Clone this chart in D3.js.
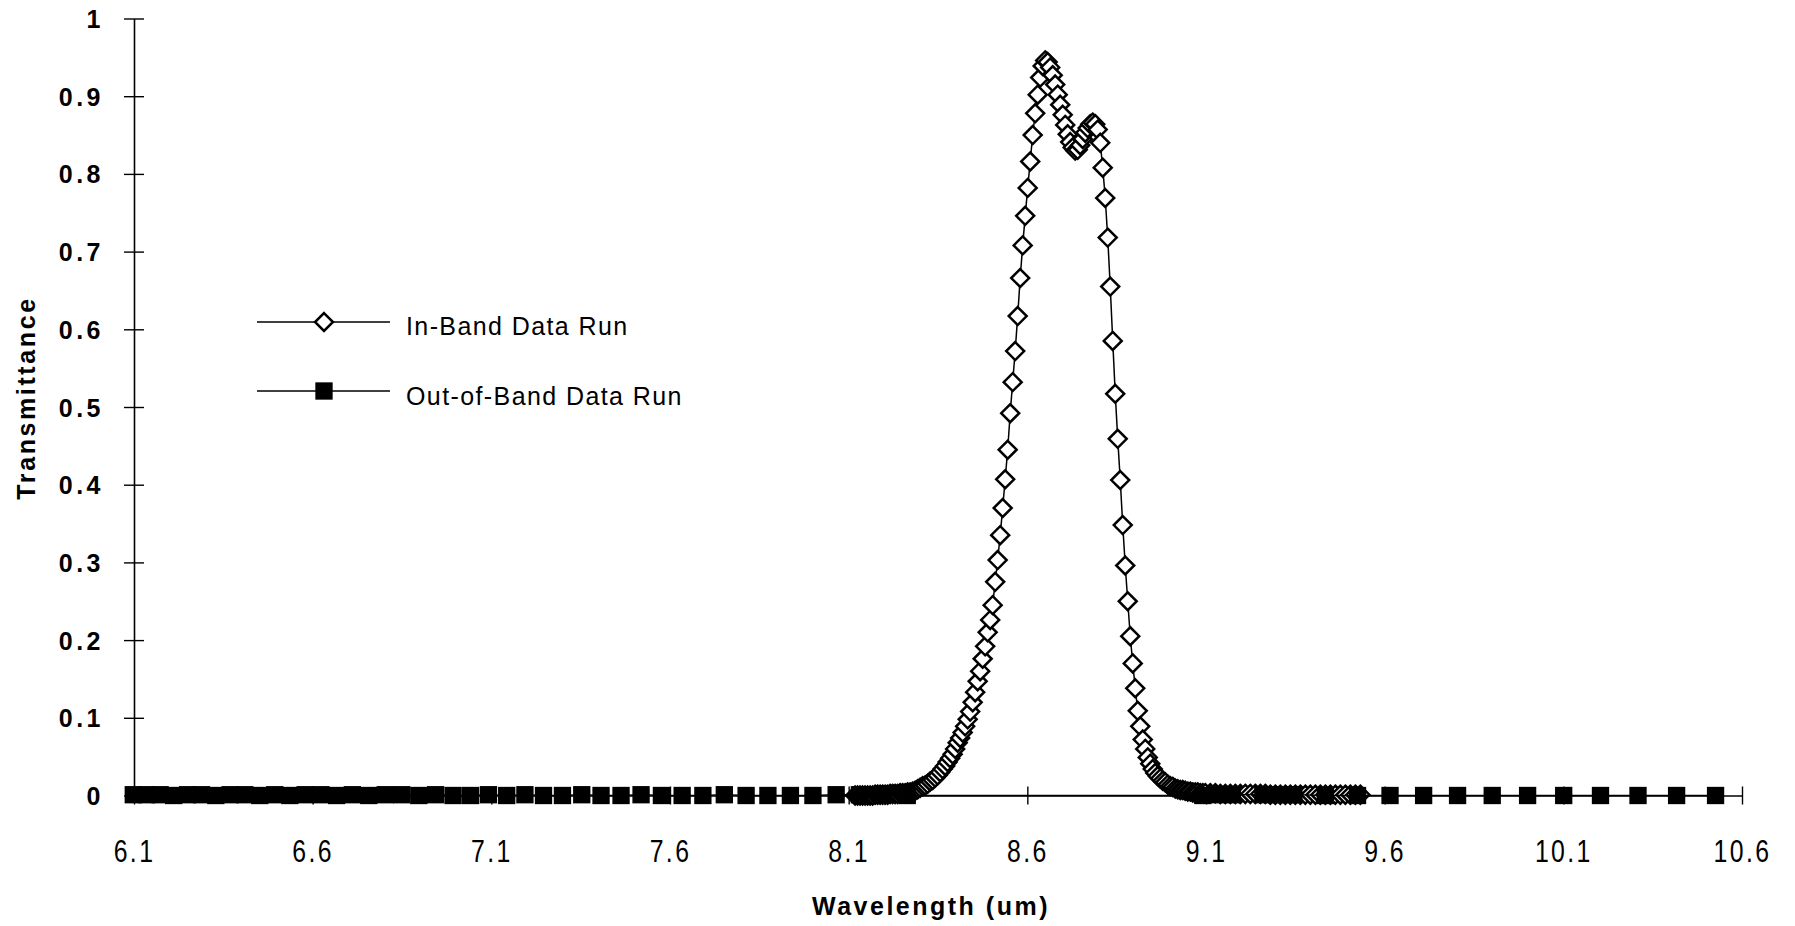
<!DOCTYPE html>
<html><head><meta charset="utf-8">
<script src="https://cdn.jsdelivr.net/npm/d3@7"></script>
<style>
html,body{margin:0;padding:0;background:#fff;}
svg{display:block;}
</style></head>
<body><svg id="chart" width="1795" height="926"></svg>
<script>
// ---------- data ----------
const xTickValues = [6.1, 6.6, 7.1, 7.6, 8.1, 8.6, 9.1, 9.6, 10.1, 10.6];
const xTickLabels = ["6.1", "6.6", "7.1", "7.6", "8.1", "8.6", "9.1", "9.6", "10.1", "10.6"];
const yTickValues = [0, 0.1, 0.2, 0.3, 0.4, 0.5, 0.6, 0.7, 0.8, 0.9, 1];
const yTickLabels = ["0", "0.1", "0.2", "0.3", "0.4", "0.5", "0.6", "0.7", "0.8", "0.9", "1"];
const seriesNames = ["In-Band Data Run", "Out-of-Band Data Run"];
const xTitle = "Wavelength (um)";
const yTitle = "Transmittance";

const inBandWavelength = [
  8.118, 8.125, 8.132, 8.139, 8.146, 8.153,
  8.160, 8.167, 8.174, 8.181, 8.188, 8.195, 8.202, 8.209, 8.216, 8.223,
  8.230, 8.237, 8.244, 8.251, 8.258, 8.265, 8.272, 8.279, 8.286, 8.293,
  8.300, 8.307, 8.314, 8.321, 8.328, 8.335, 8.342, 8.349, 8.356, 8.363,
  8.370, 8.377, 8.384, 8.391, 8.398, 8.405, 8.412, 8.419, 8.426, 8.433,
  8.440, 8.447, 8.454, 8.461, 8.468, 8.475, 8.482, 8.489, 8.496, 8.503,
  8.510, 8.517, 8.524, 8.531, 8.538, 8.545, 8.552, 8.559, 8.566, 8.573,
  8.580, 8.587, 8.594, 8.601, 8.608, 8.615, 8.622, 8.629, 8.636, 8.643,
  8.650, 8.657, 8.664, 8.671, 8.678, 8.685, 8.692, 8.699, 8.706, 8.713,
  8.720, 8.727, 8.734, 8.741, 8.748, 8.755, 8.762, 8.769, 8.776, 8.783,
  8.790, 8.797, 8.804, 8.811, 8.818, 8.825, 8.832, 8.839, 8.846, 8.853,
  8.860, 8.867, 8.874, 8.881, 8.888, 8.895, 8.902, 8.909, 8.916, 8.923,
  8.930, 8.937, 8.944, 8.951, 8.958, 8.965, 8.972, 8.979, 8.986, 8.993,
  9.000, 9.007, 9.014, 9.021, 9.028, 9.035, 9.042, 9.049, 9.056, 9.063,
  9.070, 9.077, 9.084, 9.091, 9.098,
  9.112, 9.126, 9.140, 9.154, 9.168, 9.182, 9.196, 9.210, 9.224, 9.238,
  9.252, 9.266, 9.280, 9.294, 9.308, 9.322, 9.336, 9.350, 9.364, 9.378,
  9.392, 9.406, 9.420, 9.434, 9.448, 9.462, 9.476, 9.490, 9.504, 9.518,
  9.532
];
const inBandTransmittance = [
  0.000, 0.000, 0.000, 0.000, 0.000, 0.000,
  0.000, 0.000, 0.001, 0.001, 0.001, 0.001, 0.001, 0.001, 0.002, 0.002,
  0.002, 0.002, 0.003, 0.003, 0.003, 0.004, 0.004, 0.005, 0.006, 0.008,
  0.010, 0.012, 0.013, 0.015, 0.018, 0.020, 0.023, 0.026, 0.030, 0.034,
  0.038, 0.043, 0.048, 0.053, 0.060, 0.068, 0.074, 0.081, 0.089, 0.098,
  0.108, 0.120, 0.133, 0.147, 0.160, 0.176, 0.192, 0.210, 0.226, 0.245,
  0.275, 0.303, 0.335, 0.370, 0.407, 0.445, 0.492, 0.532, 0.572, 0.617,
  0.666, 0.708, 0.746, 0.782, 0.816, 0.850, 0.878, 0.902, 0.924, 0.939,
  0.946, 0.944, 0.937, 0.927, 0.915, 0.902, 0.889, 0.876, 0.863, 0.851,
  0.841, 0.834, 0.830, 0.831, 0.837, 0.845, 0.853, 0.859, 0.864, 0.866,
  0.864, 0.857, 0.840, 0.808, 0.769, 0.718, 0.655, 0.585, 0.517, 0.459,
  0.406, 0.348, 0.296, 0.250, 0.205, 0.170, 0.138, 0.109, 0.089, 0.072,
  0.060, 0.049, 0.041, 0.034, 0.029, 0.025, 0.022, 0.019, 0.017, 0.014,
  0.012, 0.011, 0.009, 0.008, 0.007, 0.007, 0.006, 0.005, 0.005, 0.004,
  0.004, 0.004, 0.003, 0.003, 0.003,
  0.003, 0.003, 0.002, 0.002, 0.002, 0.002, 0.002, 0.002, 0.002, 0.002,
  0.002, 0.002, 0.001, 0.001, 0.001, 0.001, 0.001, 0.001, 0.001, 0.001,
  0.001, 0.001, 0.001, 0.001, 0.001, 0.001, 0.001, 0.001, 0.001, 0.001,
  0.001
];

const outBandWavelength = [
  6.098, 6.135, 6.173, 6.211, 6.250, 6.289, 6.329, 6.369, 6.410, 6.452,
  6.494, 6.536, 6.579, 6.623, 6.667, 6.711, 6.757, 6.803, 6.849, 6.897,
  6.944, 6.993, 7.042, 7.092, 7.143, 7.194, 7.246, 7.299, 7.353, 7.407,
  7.463, 7.519, 7.576, 7.634, 7.692, 7.752, 7.813, 7.874, 7.937, 8.000,
  8.065, 8.130, 8.197, 8.264,
  9.091, 9.130, 9.174, 9.259, 9.302, 9.346, 9.434, 9.524,
  9.615, 9.709, 9.804, 9.901, 10.000, 10.101, 10.204, 10.309, 10.417, 10.526
];
const outBandTransmittance = [
  0.001, 0.001, 0.001, 0.000, 0.001, 0.001, 0.000, 0.001, 0.001, 0.000,
  0.001, 0.000, 0.001, 0.001, 0.000, 0.001, 0.000, 0.001, 0.001, 0.000,
  0.001, 0.000, 0.000, 0.001, 0.000, 0.001, 0.000, 0.000, 0.001, 0.000,
  0.000, 0.001, 0.000, 0.000, 0.000, 0.001, 0.000, 0.000, 0.000, 0.000,
  0.001, 0.001, 0.002, 0.000,
  0.000, 0.001, 0.001, 0.001, 0.001, 0.001, 0.000, 0.000,
  0.000, 0.000, 0.000, 0.000, 0.000, 0.000, 0.000, 0.000, 0.000, 0.000
];

// ---------- chart ----------
const svg = d3.select("#chart");
const x = d3.scaleLinear().domain([6.1, 10.6]).range([134, 1742]);
const y = d3.scaleLinear().domain([0, 1]).range([795.5, 18.5]);

const inBand = inBandWavelength.map((w, i) => ({w, t: inBandTransmittance[i]}));
const outBand = outBandWavelength.map((w, i) => ({w, t: outBandTransmittance[i]}));

const FONT = "'Liberation Sans', Arial, Helvetica, sans-serif";

// X axis
const xAxis = d3.axisBottom(x)
  .tickValues(xTickValues)
  .tickFormat(d => xTickLabels[xTickValues.indexOf(d)])
  .tickSizeInner(9).tickSizeOuter(0).tickPadding(0);
const gx = svg.append("g").attr("transform", `translate(0,${y(0)})`).call(xAxis);
gx.select(".domain").attr("stroke", "#000").attr("stroke-width", 1.4);
gx.selectAll(".tick line").attr("y1", -9).attr("y2", 9).attr("stroke", "#000").attr("stroke-width", 1.4);
gx.selectAll(".tick text")
  .attr("y", 67).attr("dy", 0)
  .attr("transform", "scale(0.8,1)")
  .attr("fill", "#000")
  .style("font-family", FONT).style("font-size", "31px").style("letter-spacing", "3px");

// Y axis
const yAxis = d3.axisLeft(y)
  .tickValues(yTickValues)
  .tickFormat(d => yTickLabels[yTickValues.indexOf(d)])
  .tickSizeInner(10).tickSizeOuter(0).tickPadding(23);
const gy = svg.append("g").attr("transform", `translate(${x(6.1)},0)`).call(yAxis);
gy.select(".domain").attr("stroke", "#000").attr("stroke-width", 1.6);
gy.selectAll(".tick line").attr("x1", 10).attr("x2", -10).attr("stroke", "#000").attr("stroke-width", 1.4);
gy.selectAll(".tick text")
  .attr("x", -30).attr("dy", "0.36em")
  .attr("fill", "#000")
  .style("font-family", FONT).style("font-size", "25px").style("font-weight", "bold")
  .style("letter-spacing", "3.5px");

// Titles
svg.append("text")
  .attr("x", 931).attr("y", 915)
  .attr("text-anchor", "middle")
  .style("font-family", FONT).style("font-size", "25px").style("font-weight", "bold")
  .style("letter-spacing", "2.5px")
  .text(xTitle);
svg.append("text")
  .attr("transform", "translate(35,398) rotate(-90)")
  .attr("text-anchor", "middle")
  .style("font-family", FONT).style("font-size", "25px").style("font-weight", "bold")
  .style("letter-spacing", "2.6px")
  .text(yTitle);

// Series
const line = d3.line().x(d => x(d.w)).y(d => y(d.t));
const diamond = d3.symbol().type(d3.symbolDiamond2).size(205);
const square = d3.symbol().type(d3.symbolSquare).size(300);

// In-band
svg.append("path").datum(inBand)
  .attr("d", line).attr("fill", "none").attr("stroke", "#000").attr("stroke-width", 1.5);
svg.append("g").selectAll("path").data(inBand).join("path")
  .attr("transform", d => `translate(${x(d.w)},${y(d.t)})`)
  .attr("d", diamond)
  .attr("fill", "#fff").attr("stroke", "#000").attr("stroke-width", 2.5);

// Out-of-band
svg.append("path").datum(outBand)
  .attr("d", line).attr("fill", "none").attr("stroke", "#000").attr("stroke-width", 1.3);
svg.append("g").selectAll("path").data(outBand).join("path")
  .attr("transform", d => `translate(${x(d.w)},${y(d.t)})`)
  .attr("d", square)
  .attr("fill", "#000").attr("stroke", "none");

// Legend
const legend = svg.append("g");
const legendRows = [
  {name: seriesNames[0], ly: 322, ty: 335, sym: diamond, fill: "#fff", stroke: "#000"},
  {name: seriesNames[1], ly: 391, ty: 405, sym: square, fill: "#000", stroke: "none"}
];
legendRows.forEach(r => {
  legend.append("line").attr("x1", 257).attr("x2", 390).attr("y1", r.ly).attr("y2", r.ly)
    .attr("stroke", "#000").attr("stroke-width", 1.3);
  legend.append("path").attr("transform", `translate(324,${r.ly})`).attr("d", r.sym)
    .attr("fill", r.fill).attr("stroke", r.stroke).attr("stroke-width", 2.5);
  legend.append("text").attr("x", 406).attr("y", r.ty)
    .style("font-family", FONT).style("font-size", "25px").style("letter-spacing", "1.4px")
    .text(r.name);
});
</script>
</body></html>
